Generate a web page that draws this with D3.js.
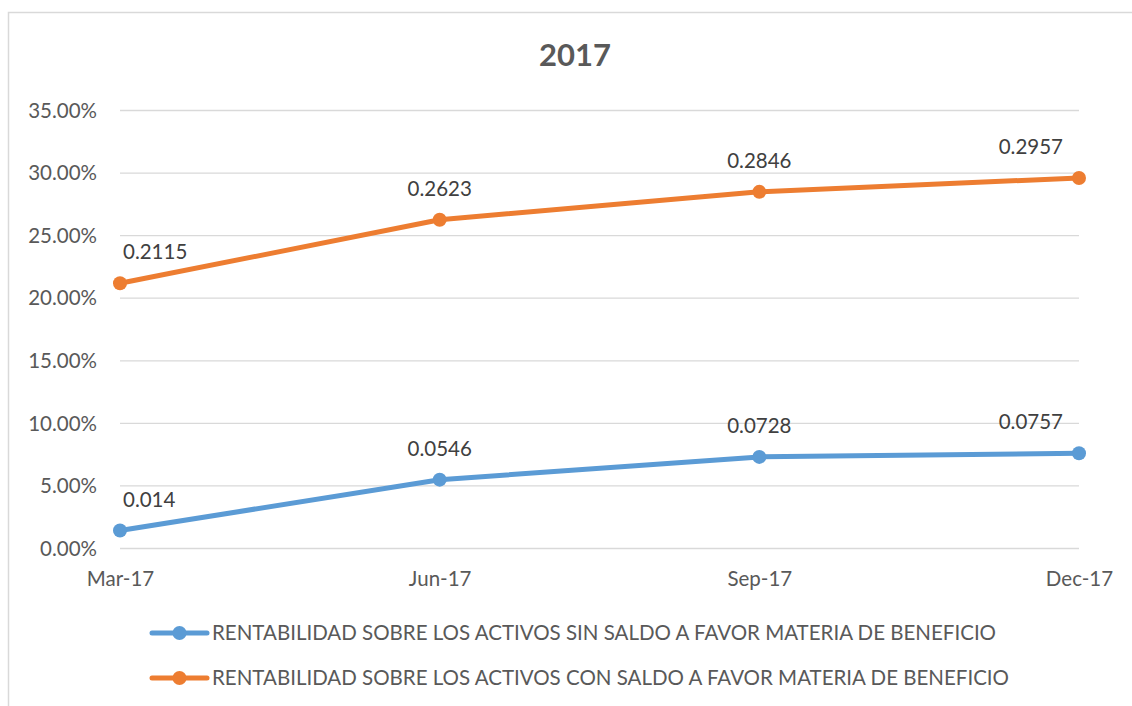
<!DOCTYPE html>
<html>
<head>
<meta charset="utf-8">
<script src="https://cdn.jsdelivr.net/npm/d3@7"></script>
<style>
  body { margin: 0; background: #fff; }
  svg { display: block; font-family: Lato, "Open Sans", sans-serif; }
</style>
</head>
<body>
<svg id="chart" width="1132" height="706"></svg>
<script>
// chart values
var quarters = ['Mar-17', 'Jun-17', 'Sep-17', 'Dec-17']
var sinSaldo = [0.014, 0.0546, 0.0728, 0.0757]
var conSaldo = [0.2115, 0.2623, 0.2846, 0.2957]
var yTicks = [0, 0.05, 0.10, 0.15, 0.20, 0.25, 0.30, 0.35]
var seriesNames = [
  'RENTABILIDAD SOBRE LOS ACTIVOS SIN SALDO A FAVOR MATERIA DE BENEFICIO',
  'RENTABILIDAD SOBRE LOS ACTIVOS CON SALDO A FAVOR MATERIA DE BENEFICIO'
]
var seriesColors = ['#5B9BD5', '#ED7D31']

var series = [
  { name: seriesNames[0], color: seriesColors[0], values: sinSaldo },
  { name: seriesNames[1], color: seriesColors[1], values: conSaldo }
]

var svg = d3.select('#chart')
var plot = { left: 120, right: 1079, top: 110, bottom: 548 }

/* Outer chart frame, only the top and left edges fall inside the picture */
svg.append('rect')
  .attr('x', 8.5).attr('y', 12.5)
  .attr('width', 1140).attr('height', 720)
  .attr('fill', 'none').attr('stroke', '#D9D9D9').attr('stroke-width', 1.5)

svg.append('text')
  .attr('x', 575).attr('y', 66)
  .attr('text-anchor', 'middle')
  .style('font-size', '31px').style('font-weight', 'bold').style('fill', '#595959')
  .text('2017')

var x = d3.scalePoint().domain(quarters).range([plot.left, plot.right])
var y = d3.scaleLinear().domain([0, 0.35]).range([plot.bottom, plot.top])

/* Horizontal grid lines */
var yAxis = d3.axisLeft(y).tickValues(yTicks).tickSize(-(plot.right - plot.left)).tickPadding(23)
  .tickFormat(function(d) { return (d * 100).toFixed(2) + '%' })
var gy = svg.append('g').attr('transform', 'translate(' + plot.left + ',0)').call(yAxis)
  .attr('font-family', null).attr('font-size', null)
gy.select('.domain').remove()
gy.selectAll('line').attr('stroke', '#D9D9D9').attr('stroke-width', 1.3)
gy.selectAll('text').style('font-size', '20.5px').style('fill', '#595959').attr('dy', '0.35em')

/* Category labels under the plot */
var xAxis = d3.axisBottom(x).tickSize(0).tickPadding(31)
var gx = svg.append('g').attr('transform', 'translate(0,' + plot.bottom + ')').call(xAxis)
  .attr('font-family', null).attr('font-size', null)
gx.select('.domain').remove()
gx.selectAll('text').style('font-size', '20.5px').style('fill', '#595959').attr('dy', '0.35em')

var line = d3.line()
  .x(function(d, i) { return x(quarters[i]) })
  .y(function(d) { return y(d) })

var groups = svg.selectAll('g.series').data(series).enter().append('g').attr('class', 'series')

groups.append('path')
  .attr('d', function(s) { return line(s.values) })
  .attr('fill', 'none')
  .attr('stroke', function(s) { return s.color })
  .attr('stroke-width', 5)
  .attr('stroke-linejoin', 'round')

groups.selectAll('circle').data(function(s) { return s.values.map(function(v) { return { v: v, color: s.color } }) })
  .enter().append('circle')
  .attr('cx', function(d, i) { return x(quarters[i]) })
  .attr('cy', function(d) { return y(d.v) })
  .attr('r', 7)
  .attr('fill', function(d) { return d.color })

/* Data labels sit above each point, kept inside the plot at both ends */
groups.selectAll('text.label').data(function(s) { return s.values })
  .enter().append('text')
  .attr('class', 'label')
  .attr('x', function(d, i) {
    var px = x(quarters[i])
    if (i == 0) return px + 3
    if (i == quarters.length - 1) return px - 16
    return px
  })
  .attr('y', function(d) { return y(d) - 31 })
  .attr('dy', '0.35em')
  .attr('text-anchor', function(d, i) {
    if (i == 0) return 'start'
    if (i == quarters.length - 1) return 'end'
    return 'middle'
  })
  .style('font-size', '20.5px').style('fill', '#404040')
  .text(function(d) { return String(d) })

/* Legend, one row for each series */
var legend = svg.selectAll('g.legend').data(series).enter().append('g')
  .attr('class', 'legend')
  .attr('transform', function(s, i) { return 'translate(152,' + (633 + i * 45) + ')' })

legend.append('line')
  .attr('x1', 0).attr('x2', 55).attr('y1', 0).attr('y2', 0)
  .attr('stroke', function(s) { return s.color })
  .attr('stroke-width', 5).attr('stroke-linecap', 'round')
legend.append('circle')
  .attr('cx', 27.5).attr('cy', 0).attr('r', 7)
  .attr('fill', function(s) { return s.color })
legend.append('text')
  .attr('x', 60).attr('y', 0).attr('dy', '0.35em')
  .style('font-size', '20.5px').style('fill', '#595959')
  .text(function(s) { return s.name })
</script>
</body>
</html>
